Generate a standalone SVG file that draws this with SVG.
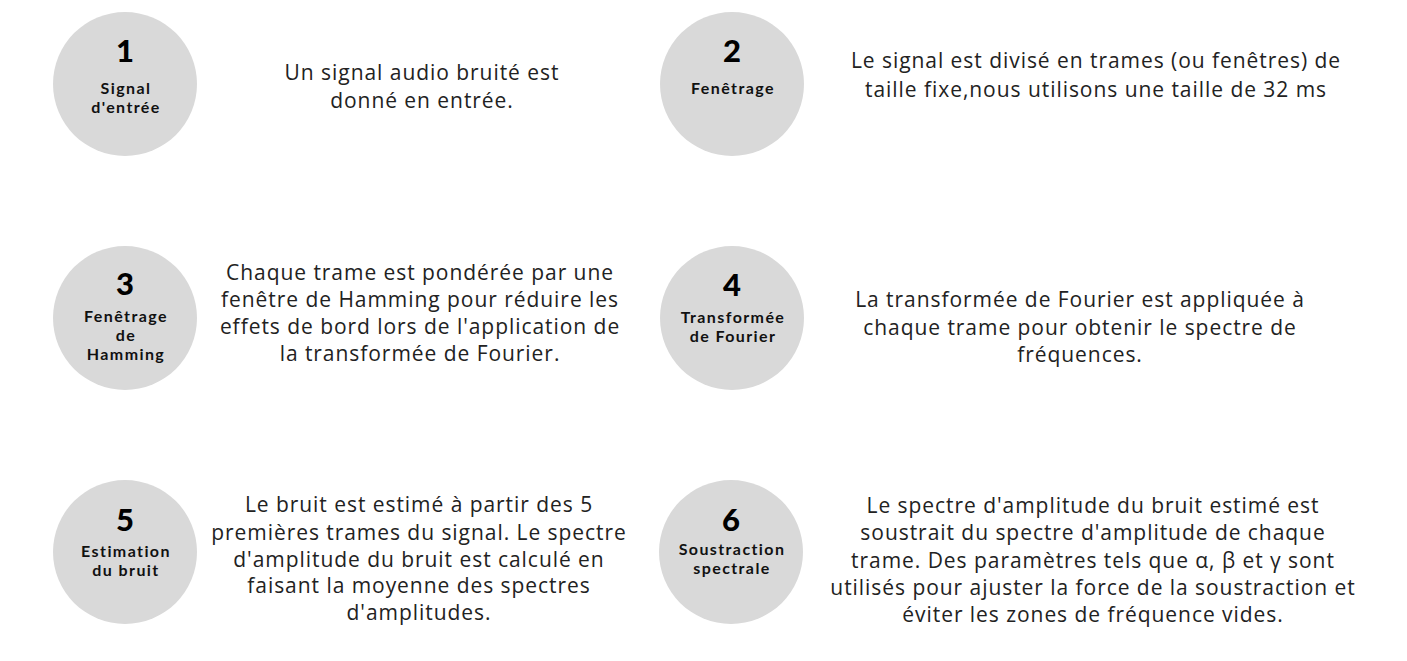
<svg xmlns="http://www.w3.org/2000/svg" width="1407" height="661" viewBox="0 0 1407 661">
<style>
.c{fill:#d9d9d9}
.n{font-family:Lato,"Liberation Sans",sans-serif;font-weight:900;font-size:31px;fill:#000;text-anchor:middle}
.l{font-family:Lato,"Liberation Sans",sans-serif;font-weight:700;font-size:16px;letter-spacing:1.4px;fill:#111;text-anchor:middle}
.t{font-family:"Open Sans","Liberation Sans",sans-serif;font-size:21px;letter-spacing:0.95px;fill:#222;text-anchor:middle}
</style>
<rect width="1407" height="661" fill="#fff"/>
<g id="connectors"></g>
<g id="node1">
<circle class="c" cx="125" cy="84" r="72"/>
<text class="n" x="125" y="62">1</text>
<text class="l" x="126" y="94">Signal</text>
<text class="l" x="126" y="113">d'entrée</text>
<text class="t" x="422" y="80">Un signal audio bruité est</text>
<text class="t" x="422" y="108">donné en entrée.</text>
</g>
<g id="node2">
<circle class="c" cx="732" cy="84" r="72"/>
<text class="n" x="732" y="62">2</text>
<text class="l" x="733" y="94">Fenêtrage</text>
<text class="t" x="1096" y="68">Le signal est divisé en trames (ou fenêtres) de</text>
<text class="t" x="1096" y="97">taille fixe,nous utilisons une taille de 32 ms</text>
</g>
<g id="node3">
<circle class="c" cx="125" cy="318" r="72"/>
<text class="n" x="125" y="295">3</text>
<text class="l" x="126" y="322">Fenêtrage</text>
<text class="l" x="126" y="341">de</text>
<text class="l" x="126" y="360">Hamming</text>
<text class="t" x="420" y="280">Chaque trame est pondérée par une</text>
<text class="t" x="420" y="307">fenêtre de Hamming pour réduire les</text>
<text class="t" x="420" y="334">effets de bord lors de l'application de</text>
<text class="t" x="420" y="361">la transformée de Fourier.</text>
</g>
<g id="node4">
<circle class="c" cx="732" cy="318" r="72"/>
<text class="n" x="732" y="296">4</text>
<text class="l" x="733" y="323">Transformée</text>
<text class="l" x="733" y="342">de Fourier</text>
<text class="t" x="1080" y="307">La transformée de Fourier est appliquée à</text>
<text class="t" x="1080" y="335">chaque trame pour obtenir le spectre de</text>
<text class="t" x="1080" y="362">fréquences.</text>
</g>
<g id="node5">
<circle class="c" cx="125" cy="552" r="72"/>
<text class="n" x="125" y="531">5</text>
<text class="l" x="126" y="557">Estimation</text>
<text class="l" x="126" y="576">du bruit</text>
<text class="t" x="419" y="512">Le bruit est estimé à partir des 5</text>
<text class="t" x="419" y="540">premières trames du signal. Le spectre</text>
<text class="t" x="419" y="567">d'amplitude du bruit est calculé en</text>
<text class="t" x="419" y="593">faisant la moyenne des spectres</text>
<text class="t" x="419" y="620">d'amplitudes.</text>
</g>
<g id="node6">
<circle class="c" cx="731" cy="552" r="72"/>
<text class="n" x="731" y="531">6</text>
<text class="l" x="732" y="555">Soustraction</text>
<text class="l" x="732" y="574">spectrale</text>
<text class="t" x="1093" y="513">Le spectre d'amplitude du bruit estimé est</text>
<text class="t" x="1093" y="540">soustrait du spectre d'amplitude de chaque</text>
<text class="t" x="1093" y="568">trame. Des paramètres tels que α, β et γ sont</text>
<text class="t" x="1093" y="595">utilisés pour ajuster la force de la soustraction et</text>
<text class="t" x="1093" y="622">éviter les zones de fréquence vides.</text>
</g>
</svg>
